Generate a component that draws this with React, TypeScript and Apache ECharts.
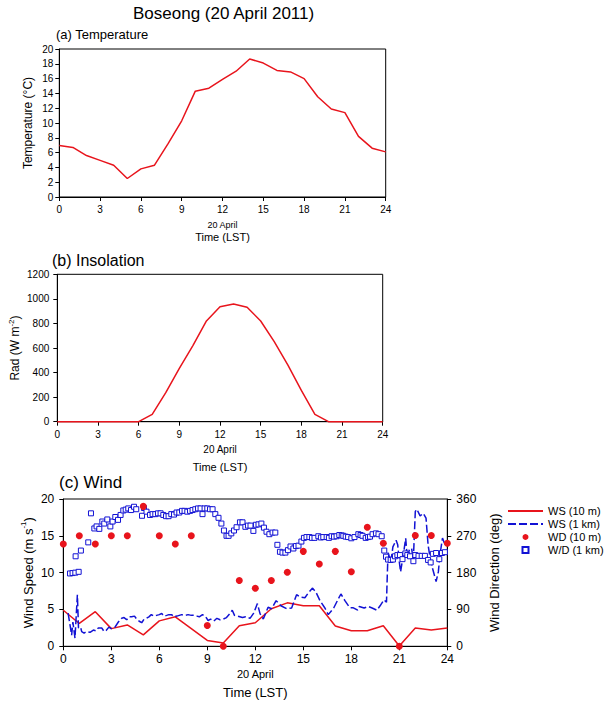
import React, { useEffect, useRef } from 'react';
import * as echarts from 'echarts';

// ---------- data ----------
const hours = [0, 1, 2, 3, 4, 5, 6, 7, 8, 9, 10, 11, 12, 13, 14, 15, 16, 17, 18, 19, 20, 21, 22, 23, 24];

const temperature = [6.95, 6.7, 5.6, 4.95, 4.3, 2.5, 3.8, 4.3, 7.2, 10.3, 14.3, 14.7, 15.9, 17.0, 18.65, 18.1, 17.1, 16.9, 16.0, 13.55, 11.9, 11.4, 8.2, 6.6, 6.1];

const insolation = [0, 0, 0, 0, 0, 0, 0, 60, 236, 435, 620, 820, 935, 959, 932, 820, 652, 462, 255, 60, 0, 0, 0, 0, 0];

const ws10m = [4.9, 3.1, 4.7, 2.4, 2.9, 1.55, 3.45, 4.0, 2.4, 0.8, 0.45, 2.8, 3.2, 5.1, 5.9, 5.5, 5.5, 2.75, 2.1, 2.1, 2.8, 0.05, 2.5, 2.2, 2.5];

const wd10m = [250, 270, 250, 270, 270, 342, 270, 250, 270, 51, 0, 161, 142, 161, 181, 232, 201, 232, 182, 291, 252, 0, 271, 271, 252];

const ws1kmTime = [0.3, 0.45, 0.52, 0.6, 0.73, 0.88, 0.95, 1.08, 1.15, 1.3, 1.46, 1.67, 1.88, 2.05, 2.19, 2.4, 2.55, 2.7, 2.85, 3.0, 3.2, 3.44, 3.65, 3.8, 3.96, 4.1, 4.27, 4.45, 4.58, 4.75, 4.9, 5.05, 5.2, 5.35, 5.5, 5.65, 5.83, 6.0, 6.15, 6.3, 6.46, 6.6, 6.77, 6.9, 7.1, 7.4, 7.6, 7.8, 8.0, 8.2, 8.35, 8.5, 8.7, 8.9, 9.05, 9.2, 9.4, 9.6, 9.8, 10.0, 10.2, 10.4, 10.56, 10.7, 10.9, 11.2, 11.4, 11.67, 11.9, 12.13, 12.3, 12.5, 12.8, 13.02, 13.3, 13.6, 13.96, 14.27, 14.58, 14.8, 15.1, 15.3, 15.58, 15.8, 16.04, 16.35, 16.56, 16.9, 17.2, 17.35, 17.6, 17.9, 18.1, 18.4, 18.5, 18.8, 19.06, 19.3, 19.6, 19.8, 20.04, 20.2, 20.25, 20.3, 20.46, 20.6, 20.8, 20.9, 21.0, 21.08, 21.25, 21.4, 21.5, 21.625, 21.77, 21.875, 22.0, 22.1, 22.3, 22.5, 22.67, 22.8, 22.96, 23.1, 23.3, 23.44, 23.54, 23.7, 23.85, 24.0];

const ws1kmSpeed = [4.5, 2.5, 1.5, 3.3, 1.1, 7.0, 2.5, 2.6, 2.0, 1.8, 2.0, 1.9, 2.2, 2.1, 2.5, 2.5, 2.0, 2.2, 2.6, 2.4, 2.5, 3.3, 3.8, 3.9, 3.6, 4.0, 4.0, 4.1, 3.7, 3.4, 3.2, 3.7, 3.8, 4.0, 4.3, 4.1, 4.2, 4.3, 4.45, 4.1, 4.2, 4.3, 4.3, 4.0, 4.1, 4.3, 4.2, 4.3, 4.2, 4.2, 4.1, 4.0, 4.3, 4.0, 3.5, 3.7, 3.4, 3.8, 3.6, 3.7, 3.9, 4.4, 4.9, 4.2, 4.1, 3.9, 4.0, 3.8, 4.5, 5.8, 4.4, 3.7, 5.3, 5.1, 6.2, 5.5, 5.1, 5.2, 7.0, 6.7, 6.6, 7.2, 7.9, 7.3, 6.2, 5.2, 4.3, 5.2, 6.5, 7.1, 6.2, 5.25, 5.25, 4.9, 5.4, 5.2, 5.4, 5.2, 4.9, 5.5, 6.3, 6.0, 9.7, 12.85, 11.3, 13.5, 14.4, 13.8, 11.5, 10.1, 12.4, 14.66, 11.9, 13.1, 13.3, 11.6, 18.3, 18.6, 17.7, 18.05, 17.4, 13.75, 11.5, 10.4, 8.8, 10.1, 12.4, 14.7, 13.8, 14.4];

const wd1kmTime = [0.42, 0.58, 0.75, 0.96, 0.77, 1.1, 1.56, 1.73, 1.94, 2.08, 2.25, 2.44, 2.56, 2.75, 2.94, 3.08, 3.25, 3.42, 3.58, 3.75, 3.9, 4.06, 4.23, 4.42, 4.56, 4.92, 5.04, 5.2, 5.42, 5.58, 5.75, 5.92, 6.08, 6.25, 6.42, 6.58, 6.75, 6.92, 7.08, 7.25, 7.42, 7.58, 7.75, 7.92, 8.08, 8.25, 8.42, 8.58, 8.7, 8.83, 9.0, 9.17, 9.33, 9.5, 9.7, 9.88, 10.04, 10.2, 10.33, 10.5, 10.67, 10.83, 11.04, 11.2, 11.38, 11.54, 11.7, 11.88, 12.04, 12.2, 12.38, 12.54, 12.7, 12.88, 13.08, 13.25, 13.38, 13.54, 13.7, 13.88, 14.04, 14.2, 14.38, 14.54, 14.7, 14.88, 15.04, 15.2, 15.38, 15.54, 15.7, 15.94, 16.1, 16.25, 16.46, 16.6, 16.77, 16.92, 17.08, 17.25, 17.4, 17.5, 17.65, 17.8, 18.0, 18.2, 18.44, 18.58, 18.7, 18.9, 19.05, 19.17, 19.33, 19.54, 19.7, 19.9, 20.06, 20.17, 20.3, 20.46, 20.6, 20.73, 20.88, 21.04, 21.2, 21.38, 21.5, 21.67, 21.88, 22.0, 22.2, 22.4, 22.6, 22.8, 22.96, 23.1, 23.3, 23.5, 23.67, 23.85];

const wd1kmDir = [178, 179, 180, 182, 220, 234, 254, 325, 288, 293, 287, 305, 300, 310, 293, 305, 316, 309, 321, 332, 334, 337, 333, 341, 335, 319, 338, 329, 321, 323, 323, 325, 325, 321, 318, 318, 323, 322, 327, 327, 331, 331, 329, 331, 333, 335, 337, 337, 323, 337, 337, 335, 335, 323, 314, 300, 283, 270, 270, 276, 283, 291, 303, 303, 292, 295, 295, 282, 297, 298, 300, 290, 280, 274, 278, 278, 248, 231, 229, 229, 235, 244, 239, 245, 246, 256, 265, 267, 267, 265, 265, 269, 266, 267, 267, 265, 269, 268, 269, 272, 271, 270, 268, 267, 264, 267, 274, 272, 270, 265, 267, 268, 274, 276, 274, 269, 234, 219, 212, 211, 212, 220, 223, 223, 213, 227, 223, 220, 208, 223, 221, 221, 221, 211, 205, 226, 228, 213, 228, 230];

const seriesNames = ['WS (10 m)', 'WS (1 km)', 'WD (10 m)', 'W/D (1 km)'];

// ---------- styles ----------
const RED = '#e8141c';
const BLUE = '#1212d4';
const FONT = 'Liberation Sans';
const BLACK = '#000';

function xAxisFor(gridIndex: number, fontSize: number, margin: number, nameGap: number, rich: any) {
  return {
    type: 'value',
    gridIndex,
    min: 0,
    max: 24,
    interval: 3,
    axisLine: { show: true, onZero: false, lineStyle: { color: BLACK, width: 1 } },
    axisTick: { show: true, inside: false, length: 4, lineStyle: { color: BLACK } },
    axisLabel: { fontSize, color: BLACK, margin, fontFamily: FONT },
    splitLine: { show: false },
    name: '{d|20 April}\n{t|Time (LST)}',
    nameLocation: 'middle',
    nameGap,
    nameMoveOverlap: false,
    nameTextStyle: { fontFamily: FONT, color: BLACK, rich },
  };
}

function yAxisFor(gridIndex: number, min: number, max: number, interval: number, fontSize: number, margin: number, name: string, nameSize: number, nameGap: number, position = 'left') {
  return {
    type: 'value',
    gridIndex,
    position,
    min,
    max,
    interval,
    axisLine: { show: true, onZero: false, lineStyle: { color: BLACK, width: 1 } },
    axisTick: { show: true, inside: false, length: 4, lineStyle: { color: BLACK } },
    axisLabel: { fontSize, color: BLACK, margin, fontFamily: FONT, formatter: (v: number) => String(v) },
    splitLine: { show: false },
    name,
    nameLocation: 'middle',
    nameRotate: 90,
    nameGap,
    nameMoveOverlap: false,
    nameTextStyle: {
      fontFamily: FONT,
      color: BLACK,
      fontSize: nameSize,
      lineHeight: nameSize + 4,
      rich: {
        sup: { fontFamily: FONT, color: BLACK, fontSize: 8, lineHeight: nameSize + 4, verticalAlign: 'top', padding: [0, 0, 6, 0] },
      },
    },
  };
}

export default function App() {
  const ref = useRef<HTMLDivElement>(null);

  useEffect(() => {
    if (!ref.current) return;
    const chart = echarts.init(ref.current, undefined, { renderer: 'svg' });

    const gridBox = { show: true, borderColor: BLACK, borderWidth: 1, backgroundColor: 'transparent', containLabel: false, outerBoundsMode: 'none' };

    const option: any = {
      animation: false,
      backgroundColor: '#fff',
      textStyle: { fontFamily: FONT, color: BLACK },
      title: [
        { text: 'Boseong (20 April 2011)', left: 133, top: 5, padding: 0, textStyle: { fontSize: 17, fontWeight: 'normal', color: BLACK, fontFamily: FONT } },
        { text: '(a) Temperature', left: 56, top: 28, padding: 0, textStyle: { fontSize: 13, fontWeight: 'normal', color: BLACK, fontFamily: FONT } },
        { text: '(b) Insolation', left: 52, top: 252, padding: 0, textStyle: { fontSize: 16, fontWeight: 'normal', color: BLACK, fontFamily: FONT } },
        { text: '(c) Wind', left: 59, top: 474, padding: 0, textStyle: { fontSize: 17, fontWeight: 'normal', color: BLACK, fontFamily: FONT } },
      ],
      legend: {
        orient: 'vertical',
        left: 507,
        top: 505,
        itemWidth: 35,
        itemHeight: 6,
        itemGap: 1,
        padding: 0,
        textStyle: { fontFamily: FONT, fontSize: 11, color: BLACK, lineHeight: 12 },
        data: [
          { name: seriesNames[0] },
          { name: seriesNames[1] },
          { name: seriesNames[2] },
          { name: seriesNames[3], icon: 'path://M0 0H10V10H0Z' },
        ],
      },
      grid: [
        { ...gridBox, left: 59.3, top: 49, width: 326.4, height: 148 },
        { ...gridBox, left: 57.3, top: 274.3, width: 325.4, height: 147.4 },
        { ...gridBox, left: 63.3, top: 499, width: 384, height: 147.3 },
      ],
      xAxis: [
        xAxisFor(0, 10, 7, 22.5, {
          d: { fontFamily: FONT, color: BLACK, fontSize: 9, lineHeight: 11 },
          t: { fontFamily: FONT, color: BLACK, fontSize: 11, lineHeight: 13 },
        }),
        xAxisFor(1, 10, 8, 21.3, {
          d: { fontFamily: FONT, color: BLACK, fontSize: 10, lineHeight: 12 },
          t: { fontFamily: FONT, color: BLACK, fontSize: 11, lineHeight: 24 },
        }),
        xAxisFor(2, 12, 7, 20.7, {
          d: { fontFamily: FONT, color: BLACK, fontSize: 11, lineHeight: 14 },
          t: { fontFamily: FONT, color: BLACK, fontSize: 13, lineHeight: 22 },
        }),
      ],
      yAxis: [
        yAxisFor(0, 0, 20, 2, 10, 6, 'Temperature (°C)', 12, 23),
        yAxisFor(1, 0, 1200, 200, 10, 8, 'Rad (W m{sup|-2})', 12, 34),
        yAxisFor(2, 0, 20, 5, 12, 9, 'Wind Speed (m s{sup|-1})', 13, 26.5),
        yAxisFor(2, 0, 360, 90, 12, 9, 'Wind Direction (deg)', 13, 38.5, 'right'),
      ],
      series: [
        {
          name: 'Temperature',
          type: 'line',
          xAxisIndex: 0,
          yAxisIndex: 0,
          data: hours.map((h, i) => [h, temperature[i]]),
          symbol: 'none',
          clip: false,
          lineStyle: { color: RED, width: 1.5 },
          itemStyle: { color: RED },
        },
        {
          name: 'Insolation',
          type: 'line',
          xAxisIndex: 1,
          yAxisIndex: 1,
          data: hours.map((h, i) => [h, insolation[i]]),
          symbol: 'none',
          clip: false,
          lineStyle: { color: RED, width: 1.5 },
          itemStyle: { color: RED },
        },
        {
          name: seriesNames[0],
          type: 'line',
          xAxisIndex: 2,
          yAxisIndex: 2,
          data: hours.map((h, i) => [h, ws10m[i]]),
          symbol: 'none',
          clip: false,
          lineStyle: { color: RED, width: 1.5 },
          itemStyle: { color: RED, opacity: 0 },
        },
        {
          name: seriesNames[1],
          type: 'line',
          xAxisIndex: 2,
          yAxisIndex: 2,
          data: ws1kmTime.map((t, i) => [t, ws1kmSpeed[i]]),
          symbol: 'none',
          clip: false,
          lineStyle: { color: BLUE, width: 1.5, type: [8, 3] },
          itemStyle: { color: BLUE, opacity: 0 },
        },
        {
          name: seriesNames[2],
          type: 'scatter',
          xAxisIndex: 2,
          yAxisIndex: 3,
          data: hours.map((h, i) => [h, wd10m[i]]),
          symbol: 'circle',
          symbolSize: 7,
          clip: false,
          itemStyle: { color: RED, opacity: 1 },
          z: 4,
        },
        {
          name: seriesNames[3],
          type: 'scatter',
          xAxisIndex: 2,
          yAxisIndex: 3,
          data: wd1kmTime.map((t, i) => [t, wd1kmDir[i]]),
          symbol: 'rect',
          symbolSize: 5,
          clip: false,
          itemStyle: { color: '#fff', borderColor: BLUE, borderWidth: 1, opacity: 1 },
          z: 3,
        },
      ],
    };

    chart.setOption(option);
    return () => chart.dispose();
  }, []);

  return <div ref={ref} style={{ position: 'absolute', left: 0, top: 0, width: 615, height: 701 }} />;
}
